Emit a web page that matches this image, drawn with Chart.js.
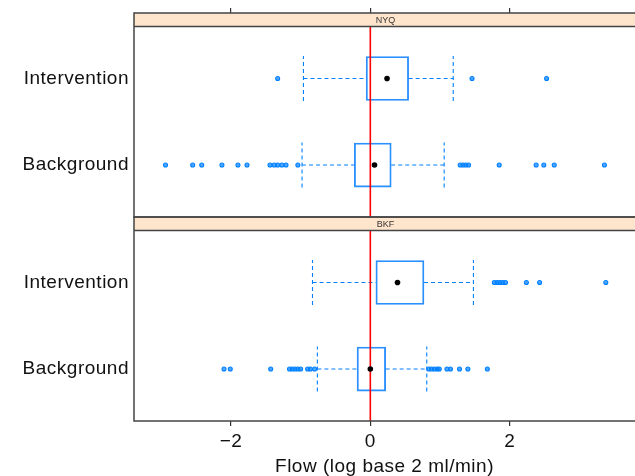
<!DOCTYPE html>
<html>
<head>
<meta charset="utf-8">
<script src="https://cdn.jsdelivr.net/npm/chart.js@4.4.1/dist/chart.umd.min.js"></script>
<style>
  html, body { margin: 0; padding: 0; background: #fff; }
  #wrap { width: 635px; height: 476px; }
</style>
</head>
<body>
<div id="wrap"><canvas id="myChart" width="635" height="476"></canvas></div>
<script>
// panels top to bottom, groups bottom to top inside a panel
const panels = ['NYQ', 'BKF'];
const groups = ['Background', 'Intervention'];
const xTicks = [-2, 0, 2];

// one entry per box
const boxPanel = ['NYQ', 'NYQ', 'BKF', 'BKF'];
const boxGroup = ['Background', 'Intervention', 'Background', 'Intervention'];
const whiskerLow = [-0.98, -0.96, -0.76, -0.83];
const lowerHinge = [-0.23, -0.06, -0.19, 0.08];
const medians = [0.06, 0.24, 0.00, 0.39];
const upperHinge = [0.30, 0.55, 0.22, 0.77];
const whiskerHigh = [1.06, 1.19, 0.81, 1.48];
const outliers = [
    [-2.94, -2.55, -2.42, -2.13, -1.90, -1.77, -1.44, -1.38, -1.33, -1.27, -1.21, -1.04,
      1.29, 1.33, 1.37, 1.41, 1.85, 2.38, 2.49, 2.64, 3.36],
    [-1.33, 1.46, 2.53],
    [-2.10, -2.01, -1.43, -1.16, -1.12, -1.08, -1.04, -1.00, -0.90, -0.86, -0.80,
      0.84, 0.88, 0.92, 0.96, 0.99, 1.10, 1.15, 1.28, 1.40, 1.68],
    [1.78, 1.82, 1.86, 1.90, 1.94, 2.24, 2.43, 3.38]
];
const refLine = 0;

// panel layout in y units
const PANEL_LO = 0.4, PANEL_HI = 2.6, STRIP = 0.156, CAP = 0.26;
const BLUE = '#0080ff';
const FONT = 'Liberation Sans, Arial, sans-serif';

function panelOffset(p) {
    return (panels.length - 1 - panels.indexOf(p)) * (PANEL_HI - PANEL_LO + STRIP);
}
function rowY(i) {
    return panelOffset(boxPanel[i]) + groups.indexOf(boxGroup[i]) + 1;
}
const yMax = panelOffset(panels[0]) + PANEL_HI + STRIP;

const boxes = [], whiskers = [], caps = [], meds = [], outs = [], ref = [];
boxPanel.forEach((p, i) => {
    const y = rowY(i);
    boxes.push({ y: y, x: [lowerHinge[i], upperHinge[i]] });
    whiskers.push({ x: whiskerLow[i], y: y }, { x: lowerHinge[i], y: y }, { x: 0, y: null },
        { x: upperHinge[i], y: y }, { x: whiskerHigh[i], y: y }, { x: 0, y: null });
    caps.push({ x: whiskerLow[i], y: y - CAP }, { x: whiskerLow[i], y: y + CAP }, { x: 0, y: null },
        { x: whiskerHigh[i], y: y - CAP }, { x: whiskerHigh[i], y: y + CAP }, { x: 0, y: null });
    meds.push({ x: medians[i], y: y });
    outliers[i].forEach(v => outs.push({ x: v, y: y }));
});
panels.forEach(p => {
    const off = panelOffset(p);
    ref.push({ x: refLine, y: off + PANEL_LO }, { x: refLine, y: off + PANEL_HI }, { x: refLine, y: null });
});

const rowTicks = boxPanel.map((p, i) => ({ value: rowY(i) }));

// the reference text is a little looser than Arial
const spacing = {
    id: 'spacing',
    beforeUpdate(chart) { chart.ctx.letterSpacing = '0.5px'; },
    beforeDraw(chart) { chart.ctx.letterSpacing = '0.5px'; }
};

const panelFrames = {
    id: 'panelFrames',
    beforeDatasetsDraw(chart) {
        const { ctx, chartArea, scales } = chart;
        ctx.save();
        panels.forEach(p => {
            const off = panelOffset(p);
            const top = scales.y.getPixelForValue(off + PANEL_HI + STRIP);
            const bot = scales.y.getPixelForValue(off + PANEL_HI);
            ctx.fillStyle = '#ffe5cc';
            ctx.fillRect(chartArea.left, top, chartArea.right - chartArea.left, bot - top);
            ctx.fillStyle = '#333';
            ctx.letterSpacing = '0px';
            ctx.font = '9px ' + FONT;
            ctx.textAlign = 'center';
            ctx.textBaseline = 'middle';
            ctx.fillText(p, (chartArea.left + chartArea.right) / 2 + 1, (top + bot) / 2 + 0.5);
        });
        ctx.restore();
    },
    afterDatasetsDraw(chart) {
        const { ctx, chartArea, scales } = chart;
        ctx.save();
        ctx.strokeStyle = '#444';
        ctx.lineWidth = 1.5;
        panels.forEach(p => {
            const off = panelOffset(p);
            const top = scales.y.getPixelForValue(off + PANEL_HI + STRIP);
            const mid = scales.y.getPixelForValue(off + PANEL_HI);
            const bot = scales.y.getPixelForValue(off + PANEL_LO);
            ctx.strokeRect(chartArea.left, top, chartArea.right - chartArea.left + 4, bot - top);
            ctx.beginPath();
            ctx.moveTo(chartArea.left, mid);
            ctx.lineTo(chartArea.right, mid);
            ctx.stroke();
        });
        ctx.restore();
    }
};

const ctx = document.getElementById('myChart').getContext('2d');
const myChart = new Chart(ctx, {
    type: 'scatter',
    data: {
        datasets: [
            {
                label: 'median', data: meds, order: 0,
                pointRadius: 2.8, pointBackgroundColor: '#000', pointBorderColor: '#000', pointBorderWidth: 0
            },
            {
                label: 'ref', data: ref, order: 1, showLine: true, pointRadius: 0,
                borderColor: '#ff0000', borderWidth: 1.6
            },
            {
                label: 'outliers', data: outs, order: 2,
                pointRadius: 2, pointBorderWidth: 1.1, pointBorderColor: BLUE,
                pointBackgroundColor: 'rgba(0,128,255,0.7)'
            },
            {
                label: 'whiskers', data: whiskers, order: 3, showLine: true, pointRadius: 0,
                borderColor: BLUE, borderWidth: 1.1, borderDash: [4, 3]
            },
            {
                label: 'caps', data: caps, order: 3, showLine: true, pointRadius: 0,
                borderColor: BLUE, borderWidth: 1.1, borderDash: [4, 3]
            },
            {
                type: 'bar', label: 'box', data: boxes, order: 4, indexAxis: 'y',
                backgroundColor: 'rgba(0,0,0,0)', borderColor: '#2a8fff', borderWidth: 1.2,
                borderSkipped: false, barThickness: 44
            }
        ]
    },
    options: {
        responsive: false,
        animation: false,
        layout: { padding: 0, autoPadding: false },
        plugins: {
            legend: { display: false },
            tooltip: { enabled: false }
        },
        scales: {
            x: {
                type: 'linear', position: 'bottom',
                min: -3.392, max: 3.799, offset: false, beginAtZero: false,
                afterBuildTicks: s => { s.ticks = xTicks.map(v => ({ value: v })); },
                afterFit: s => { s.height = 55; s.paddingLeft = 0; s.paddingRight = 0; },
                grid: { drawOnChartArea: false, drawTicks: true, tickLength: 5, color: '#333', lineWidth: 1.2, offset: false },
                border: { display: false },
                ticks: {
                    padding: 4, color: '#111', font: { family: FONT, size: 19 },
                    callback: v => String(v).replace('-', '\u2212')
                },
                title: {
                    display: true, text: 'Flow (log base 2 ml/min)', color: '#111',
                    font: { family: FONT, size: 19 }, padding: { top: 0, bottom: -2 }
                }
            },
            x2: {
                type: 'linear', position: 'top',
                min: -3.392, max: 3.799, offset: false,
                afterBuildTicks: s => { s.ticks = xTicks.map(v => ({ value: v })); },
                afterFit: s => { s.height = 13; },
                grid: { drawOnChartArea: false, drawTicks: true, tickLength: 5, color: '#333', lineWidth: 1.2, offset: false },
                border: { display: false },
                ticks: { display: false }
            },
            y: {
                type: 'linear', min: PANEL_LO, max: yMax, offset: false, beginAtZero: false,
                afterBuildTicks: s => { s.ticks = rowTicks.map(t => ({ value: t.value })); },
                afterFit: s => { s.width = 134; s.paddingTop = 0; s.paddingBottom = 0; },
                grid: { display: false, drawTicks: false, offset: false },
                border: { display: false },
                ticks: {
                    padding: 5, color: '#111', font: { family: FONT, size: 19 },
                    callback: (v, i) => boxGroup[i]
                }
            }
        }
    },
    plugins: [spacing, panelFrames]
});
</script>
</body>
</html>
